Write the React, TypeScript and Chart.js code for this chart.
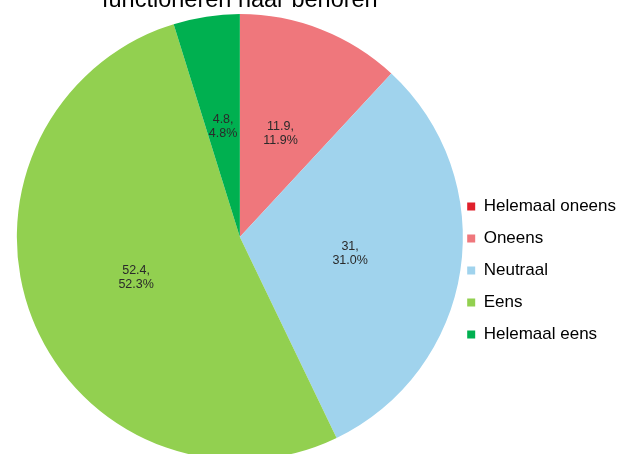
import { useEffect, useRef } from 'react';
import { Chart, registerables } from 'chart.js';

Chart.register(...registerables);

const categories = ['Helemaal oneens', 'Oneens', 'Neutraal', 'Eens', 'Helemaal eens'];
const values = [0, 11.9, 31, 52.4, 4.8];
const colors = ['#e0202b', '#ef777c', '#a0d3ed', '#92d050', '#00b050'];
const titleText = 'functioneren naar behoren';

const FONT = '"Liberation Sans", Arial, sans-serif';

const sliceLabels = {
  id: 'sliceLabels',
  afterDatasetsDraw(chart: any) {
    const ctx = chart.ctx;
    const meta = chart.getDatasetMeta(0);
    const data = chart.data.datasets[0].data as number[];
    const total = data.reduce((a, b) => a + b, 0);
    ctx.save();
    ctx.font = `12.5px ${FONT}`;
    ctx.fillStyle = '#2a2a2a';
    ctx.textAlign = 'center';
    ctx.textBaseline = 'middle';
    meta.data.forEach((arc: any, i: number) => {
      const v = data[i];
      if (!v) return;
      const p = arc.getProps(['x', 'y', 'startAngle', 'endAngle', 'outerRadius'], true);
      const mid = (p.startAngle + p.endAngle) / 2;
      const r = p.outerRadius * 0.5;
      const cx = p.x + Math.cos(mid) * r;
      const cy = p.y + Math.sin(mid) * r;
      ctx.fillText(`${v},`, cx, cy - 7);
      ctx.fillText(`${((v / total) * 100).toFixed(1)}%`, cx, cy + 7);
    });
    ctx.restore();
  },
};

export default function App() {
  const ref = useRef<HTMLCanvasElement>(null);

  useEffect(() => {
    if (!ref.current) return;
    Chart.defaults.font.family = FONT;
    const chart = new Chart(ref.current, {
      type: 'pie',
      data: {
        labels: categories,
        datasets: [
          {
            data: values,
            backgroundColor: colors,
            borderWidth: 0,
          },
        ],
      },
      options: {
        responsive: false,
        animation: false,
        devicePixelRatio: 1,
        radius: 223,
        layout: { padding: { left: 27.5, right: 0, top: 0, bottom: 0 } },
        plugins: {
          title: {
            display: true,
            text: titleText,
            fullSize: false,
            color: '#000000',
            font: { size: 23.5, weight: 'normal', family: FONT },
            padding: { top: 0, bottom: 0 },
          },
          legend: {
            position: 'right',
            align: 'center',
            title: {
              display: true,
              text: '',
              font: { size: 10, lineHeight: 1 },
              padding: { top: 85, bottom: 0 },
            },
            labels: {
              boxWidth: 8,
              boxHeight: 8,
              padding: 15,
              color: '#000000',
              font: { size: 17, family: FONT },
            },
          },
          tooltip: { enabled: false },
        },
      },
      plugins: [sliceLabels],
    });
    return () => chart.destroy();
  }, []);

  return (
    <div
      style={{
        position: 'absolute',
        left: 0,
        top: 0,
        width: 621,
        height: 454,
        overflow: 'hidden',
        background: '#ffffff',
      }}
    >
      <canvas
        ref={ref}
        width={626}
        height={474}
        style={{ position: 'absolute', left: 0, top: -14, display: 'block' }}
      />
    </div>
  );
}
